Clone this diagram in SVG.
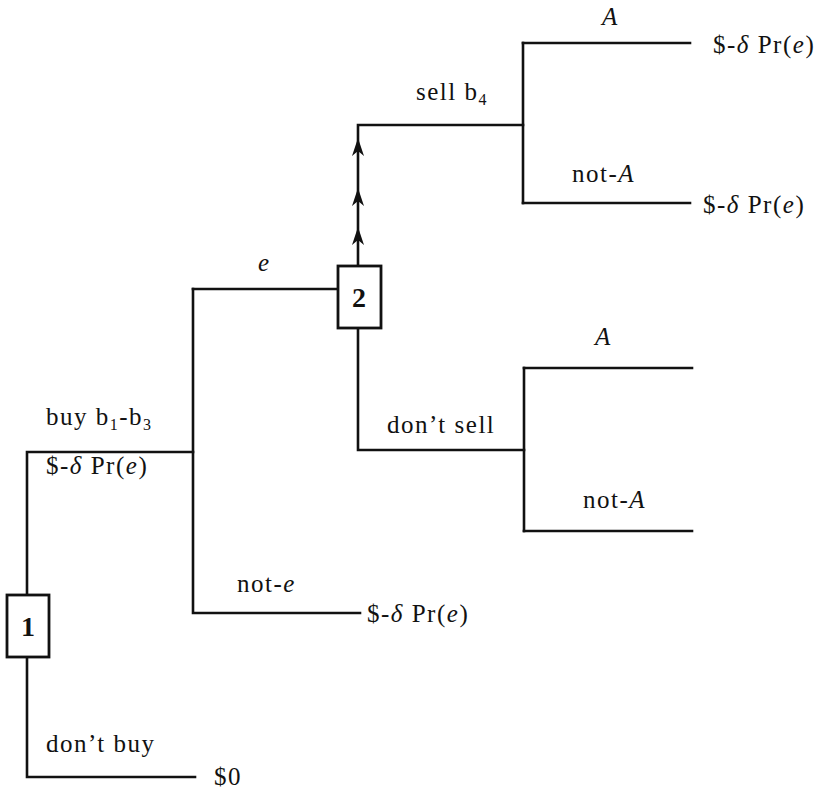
<svg xmlns="http://www.w3.org/2000/svg" width="830" height="792" viewBox="0 0 830 792">
<style>
.ln{fill:none;stroke:#111;stroke-width:2.6;stroke-linecap:square}
.bx{fill:#fff;stroke:#111;stroke-width:2.8}
text{font-family:"Liberation Serif","Times New Roman",serif;font-size:25px;fill:#111;letter-spacing:1.5px}
.it{font-style:italic}
.sub{font-size:16px}
.num{font-weight:bold;text-anchor:middle;letter-spacing:0;font-size:28px}
.ar{fill:#111}
</style>
<rect width="830" height="792" fill="#fff"/>
<g id="connectors">
<path class="ln" d="M27 595 V452 H193"/>
<path class="ln" d="M27 657 V777 H195"/>
<path class="ln" d="M193 289 V613 H360"/>
<path class="ln" d="M193 289 H338"/>
<path class="ln" d="M358 266 V125 H523"/>
<path class="ln" d="M523 43 V203"/>
<path class="ln" d="M523 43 H690"/>
<path class="ln" d="M523 203 H690"/>
<path class="ln" d="M358 328 V450 H524"/>
<path class="ln" d="M524 368 V531"/>
<path class="ln" d="M524 368 H692"/>
<path class="ln" d="M524 531 H692"/>
<path class="ar" d="M358 138 L364 156 L358 151 L352 156 Z"/>
<path class="ar" d="M358 188 L364 206 L358 201 L352 206 Z"/>
<path class="ar" d="M358 227 L364 245 L358 240 L352 245 Z"/>
</g>
<g id="node1">
<rect class="bx" x="7" y="595" width="42" height="62"/>
<text class="num" x="28" y="636">1</text>
</g>
<g id="node2">
<rect class="bx" x="338" y="266" width="43" height="62"/>
<text class="num" x="359" y="307">2</text>
</g>
<g id="labels">
<text x="46" y="425">buy b<tspan class="sub" dy="5">1</tspan><tspan dy="-5">-b</tspan><tspan class="sub" dy="5">3</tspan></text>
<text x="46" y="474">$-<tspan class="it">δ</tspan> Pr(<tspan class="it">e</tspan>)</text>
<text x="46" y="752">don’t buy</text>
<text x="214" y="785">$0</text>
<text class="it" x="258" y="271">e</text>
<text x="237" y="592">not-<tspan class="it">e</tspan></text>
<text x="367" y="622">$-<tspan class="it">δ</tspan> Pr(<tspan class="it">e</tspan>)</text>
<text x="416" y="100">sell b<tspan class="sub" dy="5">4</tspan></text>
<text class="it" x="602" y="25">A</text>
<text x="713" y="53">$-<tspan class="it">δ</tspan> Pr(<tspan class="it">e</tspan>)</text>
<text x="572" y="182">not-<tspan class="it">A</tspan></text>
<text x="703" y="213">$-<tspan class="it">δ</tspan> Pr(<tspan class="it">e</tspan>)</text>
<text x="387" y="433">don’t sell</text>
<text class="it" x="595" y="345">A</text>
<text x="583" y="508">not-<tspan class="it">A</tspan></text>
</g>
</svg>
